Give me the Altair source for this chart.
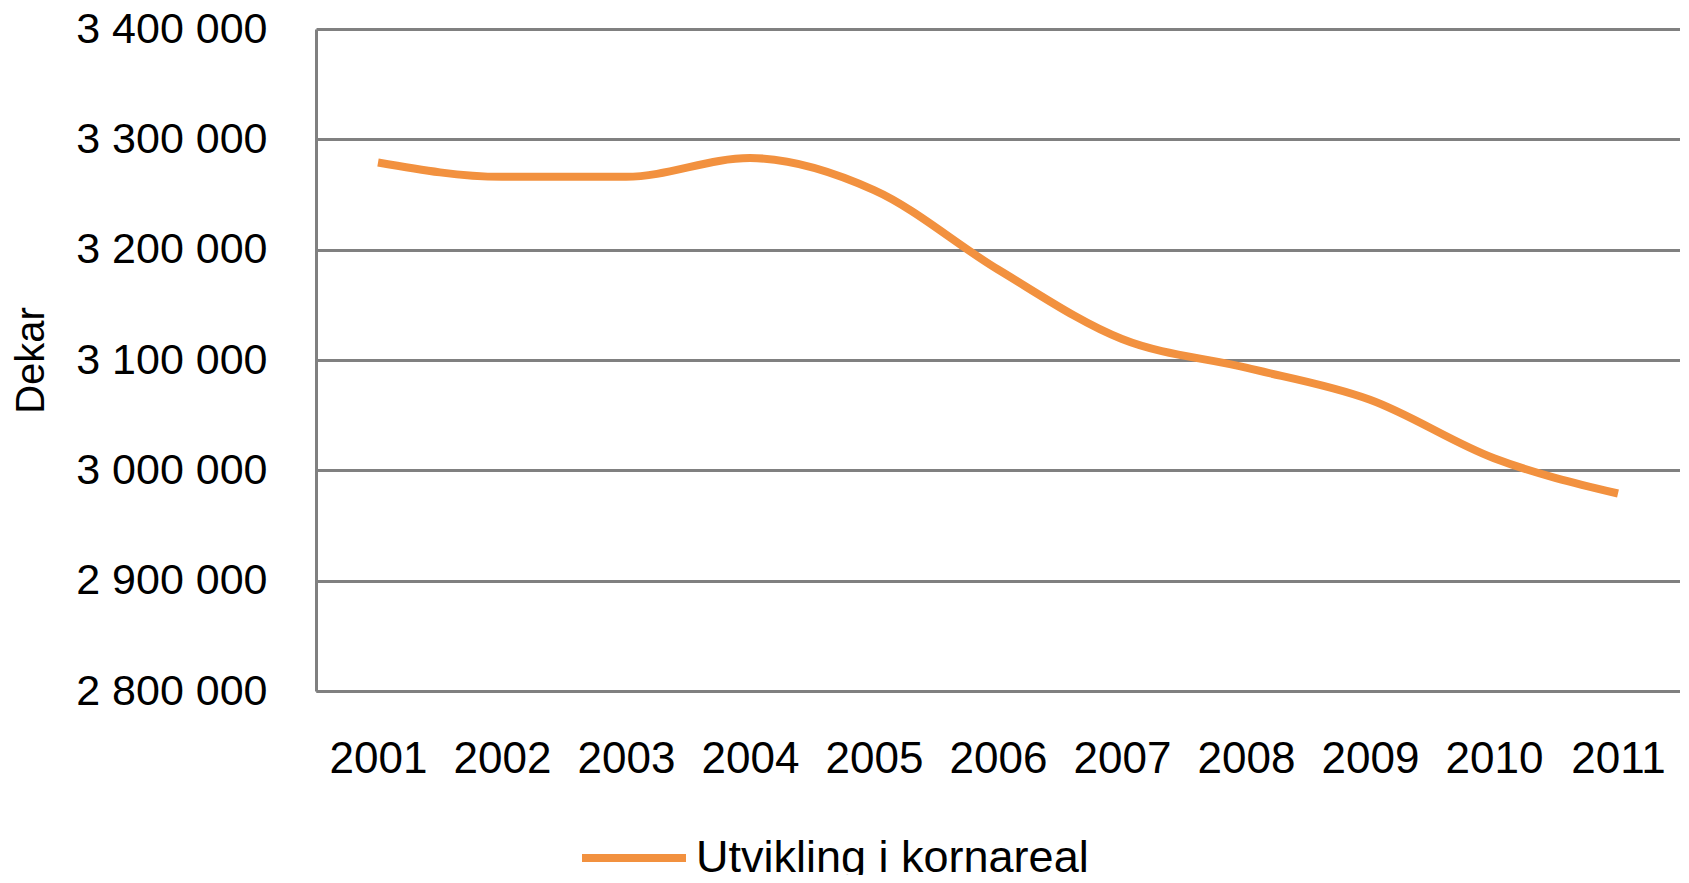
import altair as alt
import pandas as pd

years = ["2001", "2002", "2003", "2004", "2005", "2006", "2007", "2008", "2009", "2010", "2011"]
values = [3279000, 3266000, 3266000, 3283000, 3254000, 3182000, 3119000, 3093000, 3064000, 3011000, 2979000]
series_name = "Utvikling i kornareal"
y_ticks = [2800000, 2900000, 3000000, 3100000, 3200000, 3300000, 3400000]

df = pd.DataFrame({"year": years, "value": values, "series": [series_name] * len(years)})

FONT = "Liberation Sans"
GRID = "#808080"

chart = (
    alt.Chart(df)
    .mark_line(strokeWidth=8, interpolate="monotone")
    .encode(
        x=alt.X(
            "year:O",
            sort=years,
            scale=alt.Scale(type="point", padding=0.5),
            axis=alt.Axis(
                title=None,
                labelAngle=0,
                labelFontSize=44,
                labelFont=FONT,
                labelColor="#000000",
                labelPadding=46,
                ticks=False,
                grid=False,
                domainColor=GRID,
                domainWidth=3,
            ),
        ),
        y=alt.Y(
            "value:Q",
            scale=alt.Scale(domain=[2800000, 3400000], nice=False, zero=False),
            axis=alt.Axis(
                title="Dekar",
                titleFont=FONT,
                titleFontSize=40,
                titleFontWeight="normal",
                titleColor="#000000",
                titleX=-285,
                titleBaseline="middle",
                values=y_ticks,
                labelExpr="replace(replace(format(datum.value, ','), ',', ' '), ',', ' ')",
                labelFontSize=43,
                labelFont=FONT,
                labelColor="#000000",
                labelPadding=49,
                labelLimit=0,
                ticks=False,
                grid=True,
                gridColor=GRID,
                gridWidth=3,
                gridOpacity=1,
                domainColor=GRID,
                domainWidth=3,
            ),
        ),
        color=alt.Color(
            "series:N",
            scale=alt.Scale(domain=[series_name], range=["#F2913F"]),
            legend=alt.Legend(
                title=None,
                orient="none",
                legendX=262,
                legendY=773,
                symbolType="stroke",
                symbolSize=10816,
                symbolStrokeWidth=8,
                labelFont=FONT,
                labelFontSize=45,
                labelColor="#000000",
                labelOffset=6,
                labelLimit=0,
            ),
        ),
    )
    .properties(
        width=1364,
        height=662,
        padding={"left": 308, "top": 21, "right": 0, "bottom": 184},
        autosize=alt.AutoSizeParams(type="none"),
    )
    .configure_view(stroke=None)
    .configure(background="#ffffff")
)

chart.save("out.html", embed_options={"renderer": "svg", "actions": False})
